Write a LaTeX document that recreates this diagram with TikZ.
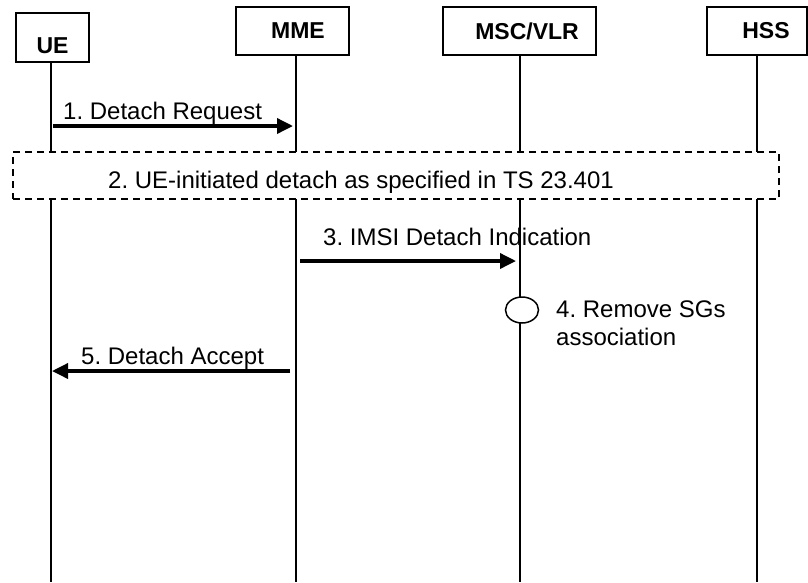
\documentclass[tikz,border=0pt]{standalone}
\usepackage{fontspec}
\setmainfont{Liberation Sans}
\usetikzlibrary{arrows.meta,shapes.geometric}
\frenchspacing
\tikzstyle{msg} = [line width=3.5pt, -{Triangle[length=16pt,width=15pt]}]
\tikzset{
    entity/.style={
        rectangle, draw, line width=1.5pt,
        fill=white, inner sep=0pt
    },
    title/.style={
        font=\fontsize{23}{27}\selectfont\bfseries,
        inner sep=0pt, anchor=base
    },
    lbl/.style={
        font=\fontsize{24}{28}\selectfont,
        inner sep=0pt, anchor=base west
    },
    lifeline/.style={
        line width=1.5pt
    },
    procbox/.style={
        rectangle, draw, line width=1.5pt,
        dash pattern=on 7pt off 5pt,
        fill=white, inner sep=0pt,
        minimum width=766pt, minimum height=47pt
    },
    action/.style={
        ellipse, draw, line width=1.5pt, fill=white,
        minimum width=33pt, minimum height=26pt, inner sep=0pt
    }
}

\begin{document}
\begin{tikzpicture}[x=1pt,y=-1pt]
    \useasboundingbox (0,0) rectangle (808,582);
    \node[entity, minimum width=73pt, minimum height=49pt] (ue) at (52.5,37.5) {};
    \node[entity, minimum width=113pt, minimum height=48pt] (mme) at (292.5,31) {};
    \node[entity, minimum width=153pt, minimum height=48pt] (msc) at (519.5,31) {};
    \node[entity, minimum width=100pt, minimum height=48pt] (hss) at (757,31) {};
    \node[title] (uetxt) at (52.5,53) {UE};
    \node[title] (mmetxt) at (298,38) {MME};
    \node[title] (msctxt) at (527,39.5) {MSC/VLR};
    \node[title] (hsstxt) at (766,38) {HSS};

    \coordinate (ueend) at (51,582);
    \coordinate (mmeend) at (296,582);
    \coordinate (mscend) at (520,582);
    \coordinate (hssend) at (757,582);
    \draw[lifeline] (ueend |- ue.south) -- (ueend);
    \draw[lifeline] (mmeend |- mme.south) -- (mmeend);
    \draw[lifeline] (mscend |- msc.south) -- (mscend);
    \draw[lifeline] (hssend |- hss.south) -- (hssend);

    \coordinate (m1a) at (53,126);
    \coordinate (m1b) at (293,126);
    \draw[msg] (m1a) -- (m1b);
    \node[lbl] (m1txt) at (63,119) {1. Detach Request};

    \node[procbox] (detach) at (396,175.5) {};
    \node[lbl] (detachtxt) at (108,188) {2. UE-initiated detach as specified in TS 23.401};

    \coordinate (m3a) at (300,261);
    \coordinate (m3b) at (516,261);
    \draw[msg] (m3a) -- (m3b);
    \node[lbl] (m3txt) at (323,245) {3. IMSI Detach Indication};

    \node[action] (remove) at (522,310) {};
    \node[lbl] (removetxt) at (556,317) {4. Remove SGs};
    \node[lbl] (removetxt2) at (556,345) {association};

    \coordinate (m5a) at (290,371);
    \coordinate (m5b) at (52,371);
    \draw[msg] (m5a) -- (m5b);
    \node[lbl] (m5txt) at (81,364) {5. Detach Accept};
\end{tikzpicture}
\end{document}
